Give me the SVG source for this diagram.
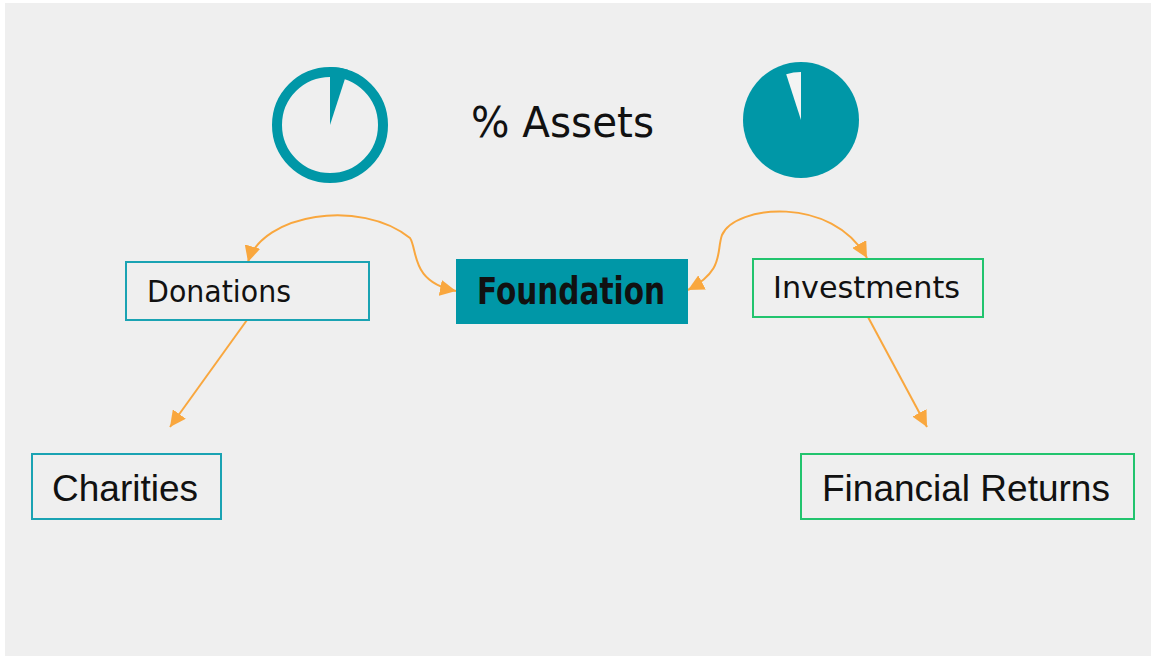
<svg xmlns="http://www.w3.org/2000/svg" width="1151" height="656" viewBox="0 0 1151 656">
<defs>
<style>
.hand{font-family:"DejaVu Sans",sans-serif;fill:#111}
.plain{font-family:"Liberation Sans",Arial,sans-serif;font-size:37px;fill:#111}
.tealbox{fill:none;stroke:#1aa3b3;stroke-width:2}
.greenbox{fill:none;stroke:#22c46e;stroke-width:2}
.conn{fill:none;stroke:#f9a73e;stroke-width:2}
</style>
<marker id="ah" markerUnits="userSpaceOnUse" markerWidth="18" markerHeight="16" refX="16" refY="8" orient="auto-start-reverse">
<path d="M0,0 L16,8 L0,16 Z" fill="#f9a73e"/>
</marker>
</defs>
<rect x="0" y="0" width="1151" height="656" fill="#ffffff"/>
<rect x="5" y="3" width="1146" height="653" fill="#efefef"/>

<g id="pie-donations">
<circle cx="330" cy="125" r="53" fill="none" stroke="#0097a7" stroke-width="10"/>
<path d="M330,125 L330,67 A58,58 0 0 1 347.9,69.8 Z" fill="#0097a7"/>
</g>
<g id="pie-investments">
<circle cx="801" cy="120" r="58" fill="#0097a7"/>
<path d="M801,120 L786.2,74.3 A48,48 0 0 1 801,72 Z" fill="#f4f4f4"/>
</g>
<g id="title">
<text class="hand" x="471" y="137" font-size="42" fill="#2b2b2b" textLength="183" lengthAdjust="spacingAndGlyphs">% Assets</text>
</g>

<g id="connectors">
<path class="conn" d="M248,262 C262,214 360,198 410,238 C418,250 410,282 456,291" marker-start="url(#ah)" marker-end="url(#ah)"/>
<path class="conn" d="M688,290 C725,270 716,252 722,235 C735,205 832,195 867,258" marker-start="url(#ah)" marker-end="url(#ah)"/>
<line class="conn" x1="247" y1="320" x2="170" y2="427" marker-end="url(#ah)"/>
<line class="conn" x1="868" y1="317" x2="927" y2="427" marker-end="url(#ah)"/>
</g>

<g id="node-donations">
<rect class="tealbox" x="126" y="262" width="243" height="58"/>
<text class="hand" x="147" y="302" font-size="30" textLength="144" lengthAdjust="spacingAndGlyphs">Donations</text>
</g>
<g id="node-foundation">
<rect x="456" y="259" width="232" height="65" fill="#0097a7"/>
<text class="hand" x="477" y="304" font-size="37" font-weight="bold" textLength="188" lengthAdjust="spacingAndGlyphs">Foundation</text>
</g>
<g id="node-investments">
<rect class="greenbox" x="753" y="259" width="230" height="58"/>
<text class="hand" x="773" y="298" font-size="30" textLength="187" lengthAdjust="spacingAndGlyphs">Investments</text>
</g>
<g id="node-charities">
<rect class="tealbox" x="32" y="454" width="189" height="65"/>
<text class="plain" x="52" y="501">Charities</text>
</g>
<g id="node-financial-returns">
<rect class="greenbox" x="801" y="454" width="333" height="65"/>
<text class="plain" x="822" y="501">Financial Returns</text>
</g>
</svg>
